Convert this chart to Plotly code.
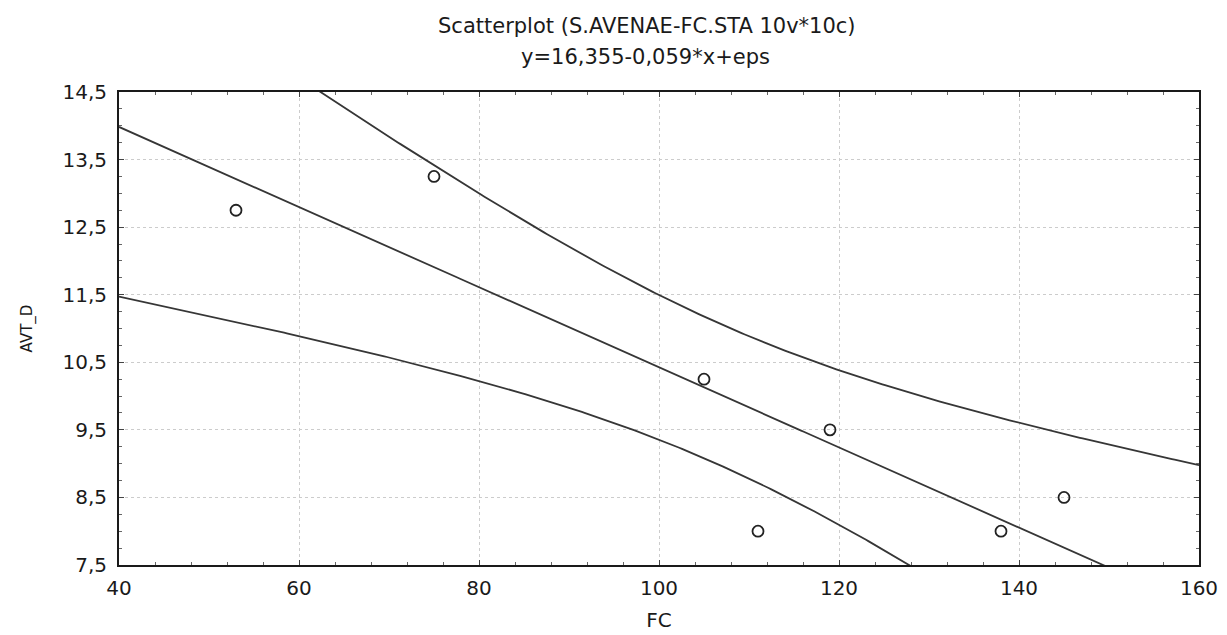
import numpy as np
import plotly.graph_objects as go

# Data
fc = [53, 75, 105, 111, 119, 138, 145]
avt_d = [12.75, 13.25, 10.25, 8.0, 9.5, 8.0, 8.5]
x_ticks = [40, 60, 80, 100, 120, 140, 160]
y_ticks = [7.5, 8.5, 9.5, 10.5, 11.5, 12.5, 13.5, 14.5]
T_CRIT = 2.5706  # t(0.975, df=5)

title1 = "Scatterplot (S.AVENAE-FC.STA 10v*10c)"
title2 = "y=16,355-0,059*x+eps"

# least-squares fit and 95% confidence band
x = np.array(fc, float)
y = np.array(avt_d, float)
n = len(x)
slope, intercept = np.polyfit(x, y, 1)
res = y - (intercept + slope * x)
s = np.sqrt((res ** 2).sum() / (n - 2))
sxx = ((x - x.mean()) ** 2).sum()
xg = np.linspace(x_ticks[0], x_ticks[-1], 400)
yfit = intercept + slope * xg
hw = T_CRIT * s * np.sqrt(1 / n + (xg - x.mean()) ** 2 / sxx)

line_style = dict(color="#363636", width=1.8)
fig = go.Figure()
for yy in (yfit, yfit + hw, yfit - hw):
    fig.add_trace(go.Scatter(x=xg, y=yy, mode="lines", line=line_style,
                             hoverinfo="skip", showlegend=False))
fig.add_trace(go.Scatter(x=fc, y=avt_d, mode="markers", showlegend=False,
                         marker=dict(symbol="circle-open", size=11,
                                     color="#222", line=dict(width=1.8))))

font = "DejaVu Sans, Liberation Sans, Arial, sans-serif"
axis_common = dict(showline=True, linecolor="#1a1a1a", linewidth=2, mirror="ticks",
                   ticks="inside", ticklen=5, tickcolor="#444",
                   showgrid=True, gridcolor="#cccccc", griddash="dot", gridwidth=1,
                   zeroline=False, tickfont=dict(family=font, size=20, color="#1a1a1a"))

W, H = 1227, 635
ML, MR, MT, MB = 111, 36, 84, 78
fig.update_layout(
    width=W, height=H,
    margin=dict(l=ML, r=MR, t=MT, b=MB, autoexpand=False),
    paper_bgcolor="white", plot_bgcolor="white",
    separators=",.",
    font=dict(family=font, color="#1a1a1a"),
    xaxis=dict(range=[x_ticks[0], x_ticks[-1]], tickvals=x_ticks, ticklabelstandoff=4,
               minor=dict(dtick=4, ticks="inside", ticklen=3, tickcolor="#666", showgrid=False),
               title=dict(text="FC", font=dict(size=20), standoff=14), **axis_common),
    yaxis=dict(range=[y_ticks[0], y_ticks[-1]], tickvals=y_ticks, tickformat=".1f",
               ticklabelstandoff=6,
               minor=dict(dtick=0.25, tick0=7.5, ticks="inside", ticklen=3, tickcolor="#666", showgrid=False),
               title=dict(text="AVT_D", font=dict(size=15), standoff=26), **axis_common),
)
# place titles at pixel positions (figure coordinates) via paper fractions
pw, ph = W - ML - MR, H - MT - MB
def px(xp):
    return (xp - ML) / pw
def py(yp):
    return (H - MB - yp) / ph
fig.layout.annotations = [
    dict(text=title1, x=px(639), y=py(18), xref="paper", yref="paper", showarrow=False,
         xanchor="center", yanchor="middle", font=dict(size=21, family=font, color="#1a1a1a")),
    dict(text=title2, x=px(637), y=py(49), xref="paper", yref="paper", showarrow=False,
         xanchor="center", yanchor="middle", font=dict(size=21, family=font, color="#1a1a1a")),
]
fig.write_html("out.html")
